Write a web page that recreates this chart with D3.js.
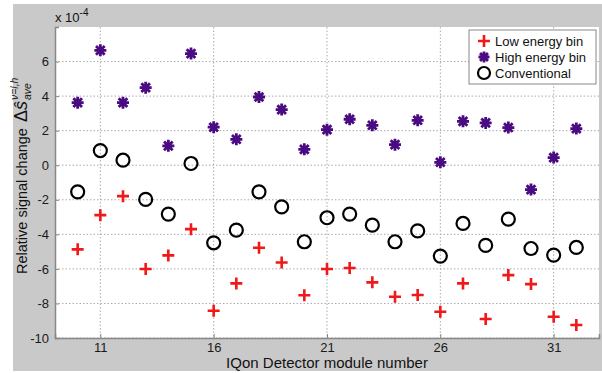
<!DOCTYPE html>
<html><head><meta charset="utf-8">
<script src="https://cdn.jsdelivr.net/npm/d3@7"></script>
<style>body{margin:0;background:#fff}svg{display:block}text{font-family:Arial,"Liberation Sans",sans-serif}</style>
</head><body><svg id="c" width="602" height="373"></svg>
<script>
const modules = d3.range(10, 33);
const lowEnergy = [-4.87,-2.89,-1.79,-6.01,-5.22,-3.70,-8.42,-6.84,-4.78,-5.63,-7.53,-6.01,-5.95,-6.78,-7.61,-7.51,-8.48,-6.84,-8.90,-6.36,-6.88,-8.77,-9.25];
const highEnergy = [3.62,6.65,3.62,4.49,1.12,6.46,2.20,1.50,3.95,3.22,0.92,2.06,2.66,2.31,1.19,2.60,0.17,2.54,2.45,2.18,-1.41,0.44,2.12];
const conventional = [-1.54,0.85,0.29,-1.98,-2.83,0.10,-4.49,-3.76,-1.54,-2.41,-4.43,-3.04,-2.83,-3.47,-4.43,-3.80,-5.26,-3.37,-4.64,-3.12,-4.82,-5.20,-4.76];
const xTicks = [11,16,21,26,31];
const yTicks = [-10,-8,-6,-4,-2,0,2,4,6];
const seriesNames = ["Low energy bin","High energy bin","Conventional"];

const svg = d3.select("#c");
const L=55,R=599,T=27,B=338;
const x = d3.scaleLinear().domain([9,33]).range([L,R]);
const y = d3.scaleLinear().domain([-10,8]).range([B,T]);

svg.append("rect").attr("x",13).attr("y",4).attr("width",589).attr("height",367).attr("fill","#c9c9c9");
svg.append("rect").attr("x",L).attr("y",T).attr("width",R-L).attr("height",B-T).attr("fill","#fff");

// grid
svg.append("g").selectAll("line").data(yTicks).join("line")
  .attr("x1",L).attr("x2",R).attr("y1",d=>y(d)).attr("y2",d=>y(d))
  .attr("stroke","#aaa").attr("stroke-width",1).attr("stroke-dasharray","1.5,2");
svg.append("g").selectAll("line").data(xTicks).join("line")
  .attr("y1",T).attr("y2",B).attr("x1",d=>x(d)).attr("x2",d=>x(d))
  .attr("stroke","#aaa").attr("stroke-width",1).attr("stroke-dasharray","1.5,2");

// axes
const ax = svg.append("g").attr("transform",`translate(0,${B})`)
  .call(d3.axisBottom(x).tickValues(xTicks).tickSize(-4).tickPadding(5).tickFormat(d3.format("d")));
const ay = svg.append("g").attr("transform",`translate(${L},0)`)
  .call(d3.axisLeft(y).tickValues(yTicks).tickSize(-4).tickPadding(6).tickFormat(d=>d));
[ax,ay].forEach(g=>{
  g.select(".domain").attr("stroke","#888").attr("stroke-width",1.5);
  g.selectAll(".tick line").attr("stroke","#888");
  g.selectAll(".tick text").attr("font-size",13).attr("fill","#1a1a1a").attr("font-family","Arial, 'Liberation Sans', sans-serif");
});

// markers
const red="#f01818", purple="#4a0a82";
function plus(g,cx,cy,s){g.append("path").attr("d",`M${cx-s},${cy}H${cx+s}M${cx},${cy-s}V${cy+s}`).attr("stroke",red).attr("stroke-width",2.6).attr("fill","none");}
function star(g,cx,cy,s){const d=s*0.72;g.append("path").attr("d",`M${cx-s},${cy}H${cx+s}M${cx},${cy-s}V${cy+s}M${cx-d},${cy-d}L${cx+d},${cy+d}M${cx-d},${cy+d}L${cx+d},${cy-d}`).attr("stroke",purple).attr("stroke-width",2.8).attr("fill","none");}
function circ(g,cx,cy,r){g.append("circle").attr("cx",cx).attr("cy",cy).attr("r",r).attr("fill","none").attr("stroke","#000").attr("stroke-width",2.2);}

const gm = svg.append("g");
modules.forEach((m,i)=>{
  plus(gm,x(m),y(lowEnergy[i]),6);
  star(gm,x(m),y(highEnergy[i]),6);
  circ(gm,x(m),y(conventional[i]),6.5);
});

// legend
const lg = svg.append("g");
lg.append("rect").attr("x",469).attr("y",30).attr("width",127).attr("height",54).attr("fill","#fff").attr("stroke","#888").attr("stroke-width",1);
const rows=[41,57,73];
plus(lg,484,rows[0],6); star(lg,484,rows[1],5.5); circ(lg,484,rows[2],6);
lg.selectAll("text").data(seriesNames).join("text").attr("x",495).attr("y",(d,i)=>rows[i]+5)
  .attr("font-size",13).attr("fill","#111").text(d=>d);

// exponent
const ex = svg.append("text").attr("x",55).attr("y",22).attr("font-size",13).attr("fill","#111");
ex.append("tspan").text("x 10");
ex.append("tspan").attr("dy",-6).attr("font-size",10).text("-4");

// x label
svg.append("text").attr("x",327).attr("y",368).attr("text-anchor","middle").attr("font-size",15).attr("fill","#111").text("IQon Detector module number");

// y label
const yl = svg.append("g").attr("transform","translate(27,274) rotate(-90)");
const t1 = yl.append("text").attr("x",0).attr("y",0).attr("font-size",14.5).attr("fill","#111").text("Relative signal change");
let w = t1.node().getComputedTextLength()+6;
const t2 = yl.append("text").attr("x",w).attr("y",0).attr("font-size",18).attr("fill","#111").attr("font-family","'Liberation Serif','DejaVu Serif',serif");
t2.append("tspan").text("Δ");
t2.append("tspan").attr("font-style","italic").text("ŝ");
w += t2.node().getComputedTextLength()+1;
yl.append("text").attr("x",w).attr("y",-9).attr("font-size",10.5).attr("font-style","italic").attr("fill","#111").attr("font-family","'Liberation Serif','DejaVu Serif',serif").text("ν=l,h");
yl.append("text").attr("x",w).attr("y",4).attr("font-size",10.5).attr("font-style","italic").attr("fill","#111").attr("font-family","'Liberation Serif','DejaVu Serif',serif").text("ave");
</script></body></html>
